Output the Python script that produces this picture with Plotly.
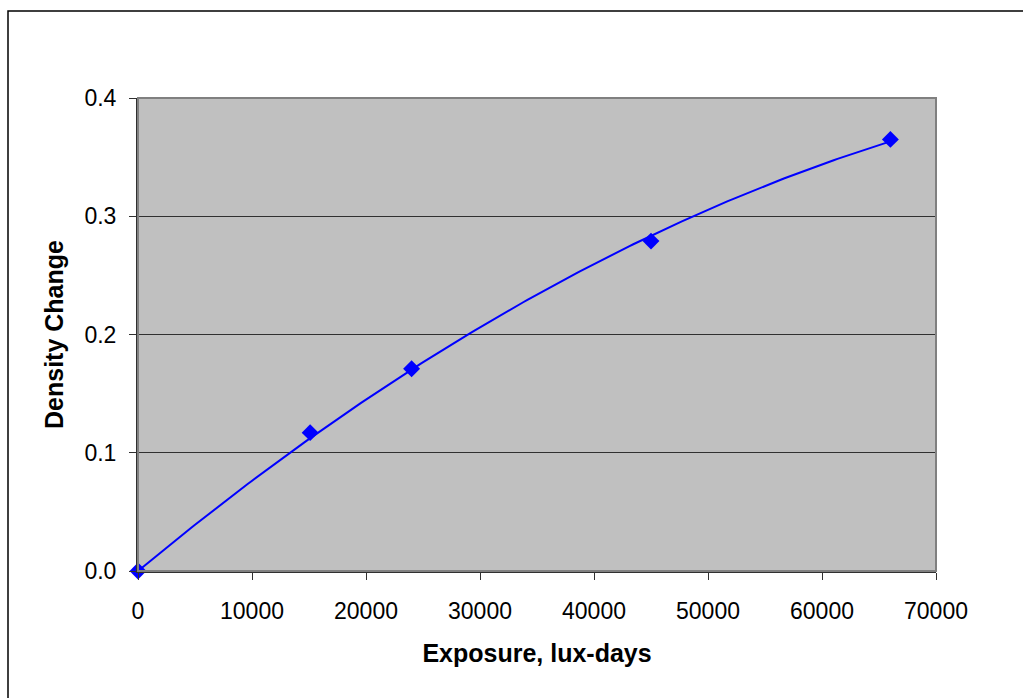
import numpy as np
import plotly.graph_objects as go

# Measured density change versus cumulative light exposure
exposure = [0, 15100, 24000, 45000, 66000]
density_change = [0.0, 0.117, 0.171, 0.279, 0.365]

x_ticks = [0, 10000, 20000, 30000, 40000, 50000, 60000, 70000]
y_ticks = [0.0, 0.1, 0.2, 0.3, 0.4]

# Second-order polynomial trendline with the intercept fixed at zero
xs = np.asarray(exposure, dtype=float)
ys = np.asarray(density_change, dtype=float)
design = np.column_stack([xs, xs ** 2])
(c1, c2), *_ = np.linalg.lstsq(design, ys, rcond=None)
x_fit = np.linspace(xs.min(), xs.max(), 200)
y_fit = c1 * x_fit + c2 * x_fit ** 2

fig = go.Figure()
fig.add_trace(go.Scatter(
    x=x_fit, y=y_fit, mode="lines",
    line=dict(color="#0000FF", width=2),
    hoverinfo="skip", showlegend=False,
))
fig.add_trace(go.Scatter(
    x=exposure, y=density_change, mode="markers",
    marker=dict(symbol="diamond", size=13, color="#0000FF"),
    showlegend=False, cliponaxis=False,
))

W, H = 1023, 698
L, R, T, B = 138, 936, 98, 571
pw, ph = R - L, B - T

def px(x):
    return (x - L) / pw

def py(y):
    return (B - y) / ph

fig.update_layout(
    width=W, height=H,
    margin=dict(l=L, r=W - R, t=T, b=H - B),
    paper_bgcolor="white",
    plot_bgcolor="#C0C0C0",
    font=dict(family="Liberation Sans, Arial, sans-serif", size=23, color="black"),
    shapes=[
        # chart frame
        dict(type="rect", xref="paper", yref="paper",
             x0=px(8), x1=px(1040), y0=py(720), y1=py(11),
             line=dict(color="black", width=1.5), layer="below"),
        # plot area border (top / right)
        dict(type="rect", xref="paper", yref="paper",
             x0=0, x1=1, y0=0, y1=1,
             line=dict(color="#808080", width=2)),
    ],
)

fig.update_xaxes(
    range=[0, 70000], tickvals=x_ticks, ticktext=[str(v) for v in x_ticks],
    showgrid=False, zeroline=False,
    showline=True, linecolor="#303030", linewidth=2,
    ticks="outside", ticklen=7, tickcolor="#303030", tickwidth=1,
    ticklabelstandoff=11,
    tickfont=dict(size=23),
    title=dict(text="<b>Exposure, lux-days</b>", font=dict(size=25), standoff=22),
)
fig.update_yaxes(
    range=[0, 0.4], tickvals=y_ticks, ticktext=[f"{v:.1f}" for v in y_ticks],
    showgrid=True, gridcolor="#303030", gridwidth=1,
    zeroline=False,
    showline=True, linecolor="#303030", linewidth=2,
    ticks="outside", ticklen=7, tickcolor="#303030", tickwidth=1,
    ticklabelstandoff=8,
    tickfont=dict(size=23),
    title=dict(text="<b>Density Change</b>", font=dict(size=25), standoff=14),
)

fig.write_html("out.html")
